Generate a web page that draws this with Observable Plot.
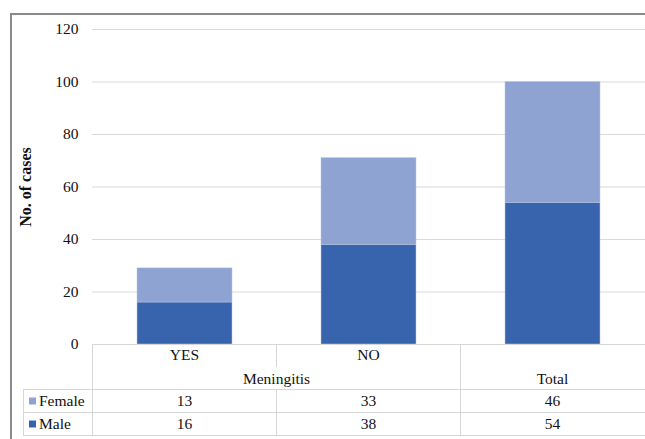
<!DOCTYPE html>
<html>
<head>
<meta charset="utf-8">
<script src="https://cdn.jsdelivr.net/npm/d3@7"></script>
<script src="https://cdn.jsdelivr.net/npm/@observablehq/plot@0.6"></script>
<style>
  html, body { margin: 0; padding: 0; background: #fff; }
  #wrap { position: relative; width: 645px; height: 439px; overflow: hidden; font-family: "Liberation Serif", "DejaVu Serif", serif; color: #111; }
  #frame { position: absolute; left: 10px; top: 13px; width: 700px; height: 500px; border-top: 2px solid #8a8a8a; border-left: 2px solid #8a8a8a; box-sizing: border-box; }
  #chart { position: absolute; left: 0; top: 0; }
  .ln { position: absolute; background: #d6d6d6; }
  .tx { position: absolute; transform: translate(-50%, -50%); font-size: 15.5px; line-height: 1; white-space: nowrap; }
  .lg { position: absolute; transform: translateY(-50%); font-size: 15.5px; line-height: 1; white-space: nowrap; }
  .sq { position: absolute; width: 7px; height: 7px; transform: translateY(-50%); }
</style>
</head>
<body>
<div id="wrap"><div id="frame"></div></div>
<script>
// ---- data ----
const categories = ["YES", "NO", "Total"];
const innerLabels = ["YES", "NO", ""];
const outerLabels = ["Meningitis", "Meningitis", "Total"];
const series = ["Male", "Female"];
const maleValues = [16, 38, 54];
const femaleValues = [13, 33, 46];
const yTicks = [0, 20, 40, 60, 80, 100, 120];
const seriesColors = { Female: "#8fa3d2", Male: "#3864ae" };
const yLabel = "No. of cases";

const rows = [];
categories.forEach((c, i) => {
  rows.push({ category: c, sex: "Male", value: maleValues[i] });
  rows.push({ category: c, sex: "Female", value: femaleValues[i] });
});

const plot = Plot.plot({
  width: 645,
  height: 364,
  marginLeft: 92,
  marginRight: 0,
  marginTop: 29,
  marginBottom: 20,
  style: { fontFamily: "Liberation Serif, DejaVu Serif, serif", fontSize: "15.5px", background: "transparent", color: "#111" },
  x: { domain: categories, paddingInner: 0.485, paddingOuter: 0.2425, axis: null },
  y: { domain: [0, 120] },
  color: { domain: ["Female", "Male"], range: [seriesColors.Female, seriesColors.Male] },
  marks: [
    Plot.ruleY(yTicks, { stroke: "#d9d9d9", strokeWidth: 1 }),
    Plot.barY(rows, { x: "category", y: "value", fill: "sex", stroke: "#b8c6e6", strokeWidth: 0.5 }),
    Plot.axisY({ ticks: yTicks, tickSize: 0, tickPadding: 14, label: null, fontSize: 15.5 }),
    Plot.axisY({ ticks: [], label: yLabel, labelAnchor: "center", labelArrow: "none", labelOffset: 73, fontWeight: "bold", fontSize: 16 })
  ]
});
plot.id = "chart";
const wrap = document.getElementById("wrap");
wrap.appendChild(plot);

// ---- data table below the chart, aligned to the x scale ----
const xs = plot.scale("x");
const step = xs.step, bw = xs.bandwidth;
const colLeft = c => xs.apply(c) + bw / 2 - step / 2;
const colCenter = c => xs.apply(c) + bw / 2;

const tableTop = 344, headerSplit = 367, rowTop = 389, rowH = 23, tableLeft = 23, rightEdge = 645;
const innerY = 355, outerY = 379;

function hline(y, x1, x2) {
  const d = document.createElement("div"); d.className = "ln";
  Object.assign(d.style, { left: x1 + "px", top: (y - 0.5) + "px", width: (x2 - x1) + "px", height: "1px" });
  wrap.appendChild(d);
}
function vline(x, y1, y2) {
  const d = document.createElement("div"); d.className = "ln";
  Object.assign(d.style, { left: (x - 0.5) + "px", top: y1 + "px", width: "1px", height: (y2 - y1) + "px" });
  wrap.appendChild(d);
}
function text(t, x, y) {
  const d = document.createElement("div"); d.className = "tx"; d.textContent = t;
  Object.assign(d.style, { left: x + "px", top: y + "px" });
  wrap.appendChild(d);
}

const tableBottom = rowTop + rowH * series.length;
hline(tableTop, colLeft(categories[0]), rightEdge);
for (let r = 0; r <= series.length; r++) hline(rowTop + r * rowH, tableLeft, rightEdge);
vline(tableLeft, rowTop, tableBottom);
categories.forEach((c, i) => {
  const x = colLeft(c);
  if (i === 0 || outerLabels[i] !== outerLabels[i - 1]) vline(x, tableTop, tableBottom);
  else { vline(x, tableTop, headerSplit); vline(x, rowTop, tableBottom); }
  if (innerLabels[i]) text(innerLabels[i], colCenter(c), innerY);
});
// outer group labels
let i = 0;
while (i < categories.length) {
  let j = i;
  while (j + 1 < categories.length && outerLabels[j + 1] === outerLabels[i]) j++;
  const x1 = colLeft(categories[i]), x2 = colLeft(categories[j]) + step;
  text(outerLabels[i], (x1 + x2) / 2, outerY);
  i = j + 1;
}
// value rows: Female then Male
const tableSeries = ["Female", "Male"];
const valuesBy = { Female: femaleValues, Male: maleValues };
tableSeries.forEach((s, r) => {
  const yc = rowTop + r * rowH + rowH / 2;
  const sq = document.createElement("div"); sq.className = "sq";
  Object.assign(sq.style, { left: "29px", top: yc + "px", background: seriesColors[s] });
  wrap.appendChild(sq);
  const lg = document.createElement("div"); lg.className = "lg"; lg.textContent = s;
  Object.assign(lg.style, { left: "39px", top: yc + "px" });
  wrap.appendChild(lg);
  categories.forEach((c, k) => text(String(valuesBy[s][k]), colCenter(c), yc));
});
</script>
</body>
</html>
